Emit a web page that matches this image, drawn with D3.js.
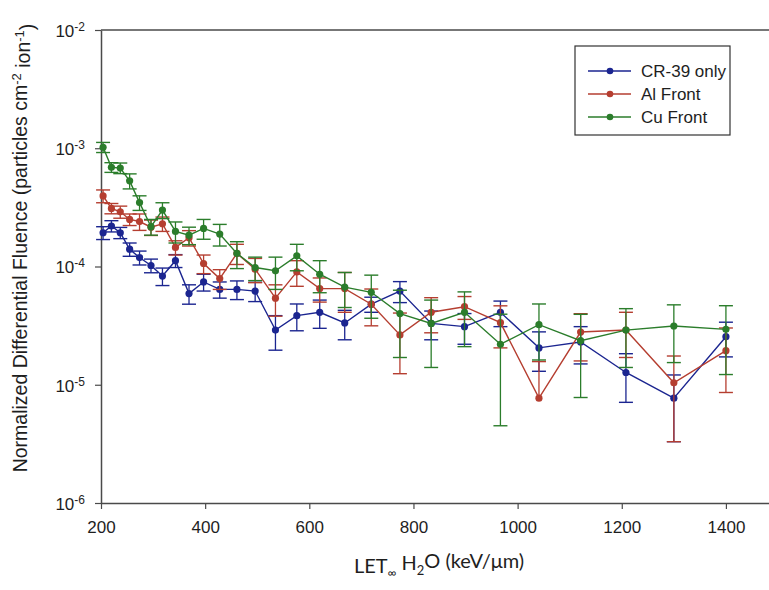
<!DOCTYPE html>
<html>
<head>
<meta charset="utf-8">
<script src="https://cdn.jsdelivr.net/npm/d3@7/dist/d3.min.js"></script>
<style>
  html, body { margin: 0; padding: 0; background: #fff; }
  svg { display: block; }
</style>
</head>
<body>
<svg id="chart" width="769" height="590"></svg>
<script>
// LET bin centres (keV/µm)
const letBins = [204, 220, 237, 255, 274, 296, 318, 343, 369, 397, 428, 461, 496, 535,
                 576, 620, 668, 719, 774, 834, 898, 967, 1041, 1121, 1208, 1300, 1400];

// Normalized differential fluence (particles cm^-2 ion^-1) and 1-sigma errors
const cr39Values = [1.93e-4, 2.2e-4, 1.93e-4, 1.40e-4, 1.19e-4, 1.02e-4, 8.3e-5, 1.12e-4, 5.9e-5, 7.4e-5,
                    6.4e-5, 6.4e-5, 6.2e-5, 2.9e-5, 3.84e-5, 4.1e-5, 3.33e-5, 4.8e-5, 6.2e-5, 3.3e-5,
                    3.1e-5, 4.1e-5, 2.05e-5, 2.3e-5, 1.27e-5, 7.7e-6, 2.55e-5];
const cr39Errors = [2.4e-5, 2.4e-5, 2.1e-5, 1.8e-5, 1.6e-5, 1.35e-5, 1.4e-5, 1.4e-5, 1.1e-5, 1.2e-5,
                    1.0e-5, 1.15e-5, 1.15e-5, 0.94e-5, 0.98e-5, 1.1e-5, 0.93e-5, 0.7e-5, 1.25e-5, 0.9e-5,
                    0.9e-5, 1.0e-5, 0.75e-5, 0.8e-5, 0.56e-5, 0.44e-5, 0.83e-5];

const alValues = [3.95e-4, 3.1e-4, 2.9e-4, 2.5e-4, 2.4e-4, 2.15e-4, 2.3e-4, 1.45e-4, 1.75e-4, 1.06e-4,
                  7.9e-5, 1.29e-4, 9.5e-5, 5.4e-5, 9.0e-5, 6.5e-5, 6.5e-5, 4.8e-5, 2.64e-5, 4.1e-5,
                  4.57e-5, 3.35e-5, 7.7e-6, 2.79e-5, 2.9e-5, 1.04e-5, 1.94e-5];
const alErrors = [4.9e-5, 3.1e-5, 3.4e-5, 2.8e-5, 3.8e-5, 3.2e-5, 3.2e-5, 2.0e-5, 2.6e-5, 1.9e-5,
                  1.5e-5, 2.5e-5, 2.2e-5, 1.6e-5, 2.2e-5, 1.5e-5, 2.4e-5, 1.65e-5, 1.4e-5, 1.35e-5,
                  1.0e-5, 1.3e-5, 0.8e-5, 1.2e-5, 1.2e-5, 0.71e-5, 1.08e-5];

const cuValues = [1.02e-3, 6.9e-4, 6.8e-4, 5.3e-4, 3.47e-4, 2.17e-4, 3.0e-4, 1.98e-4, 1.84e-4, 2.1e-4,
                  1.88e-4, 1.29e-4, 9.8e-5, 9.2e-5, 1.23e-4, 8.6e-5, 6.7e-5, 6.05e-5, 4.0e-5, 3.3e-5,
                  4.1e-5, 2.2e-5, 3.22e-5, 2.36e-5, 2.9e-5, 3.14e-5, 2.94e-5];
const cuErrors = [1.0e-4, 6.5e-5, 7.0e-5, 7.7e-5, 4.9e-5, 3.3e-5, 4.6e-5, 4.0e-5, 3.1e-5, 4.0e-5,
                  3.9e-5, 3.3e-5, 2.2e-5, 2.8e-5, 3.1e-5, 2.6e-5, 2.2e-5, 2.4e-5, 2.3e-5, 1.9e-5,
                  2.0e-5, 1.75e-5, 1.6e-5, 1.58e-5, 1.5e-5, 1.6e-5, 1.72e-5];

const seriesNames = ["CR-39 only", "Al Front", "Cu Front"];
const seriesColors = ["#1b2590", "#b53e30", "#2b7d2b"];

const xTicks = [200, 400, 600, 800, 1000, 1200, 1400];
const yTicks = [1e-6, 1e-5, 1e-4, 1e-3, 1e-2];

const series = [
  { name: seriesNames[0], color: seriesColors[0], values: cr39Values, errors: cr39Errors },
  { name: seriesNames[1], color: seriesColors[1], values: alValues, errors: alErrors },
  { name: seriesNames[2], color: seriesColors[2], values: cuValues, errors: cuErrors }
];

const svg = d3.select("#chart");
const plot = { left: 101, top: 30, bottom: 503, right: 778 };

const x = d3.scaleLinear().domain([200, 1500]).range([plot.left, plot.right]);
const y = d3.scaleLog().domain([1e-6, 1e-2]).range([plot.bottom, plot.top]);

const axisColor = "#4a4a4a";
const textColor = "#1e1e1e";
const tickFont = "'Liberation Sans', Arial, sans-serif";

// top frame line
svg.append("line")
  .attr("x1", plot.left).attr("x2", 769)
  .attr("y1", plot.top).attr("y2", plot.top)
  .attr("stroke", axisColor).attr("stroke-width", 1.5);

// x axis
const gx = svg.append("g")
  .attr("transform", `translate(0,${plot.bottom})`)
  .call(d3.axisBottom(x).tickValues(xTicks).tickFormat(d3.format("d"))
    .tickSize(6).tickSizeOuter(0).tickPadding(12));
gx.select(".domain").attr("stroke", axisColor).attr("stroke-width", 1.5);
gx.selectAll(".tick line").attr("stroke", axisColor).attr("stroke-width", 1.2);
gx.selectAll(".tick text")
  .attr("fill", textColor).style("font-family", tickFont).style("font-size", "17px");

// y axis with power-of-ten labels
const gy = svg.append("g")
  .attr("transform", `translate(${plot.left},0)`)
  .call(d3.axisLeft(y).tickValues(yTicks).tickSize(6).tickSizeOuter(0).tickFormat(() => ""));
gy.select(".domain").attr("stroke", axisColor).attr("stroke-width", 1.5);
gy.selectAll(".tick line").attr("stroke", axisColor).attr("stroke-width", 1.2);
gy.selectAll(".tick").each(function (d) {
  const t = d3.select(this).select("text")
    .attr("x", -16).attr("dy", "0.38em")
    .attr("fill", textColor).style("font-family", tickFont).style("font-size", "17px");
  t.text(null);
  t.append("tspan").text("10");
  t.append("tspan").attr("dy", "-0.5em").style("font-size", "12px")
    .text(String(Math.round(Math.log10(d))));
});

// data: line, error bars, symbols for each series
const line = d3.line().x((d) => x(d.let)).y((d) => y(d.v));
const capHalf = 7;

series.forEach((s) => {
  const pts = letBins.map((l, i) => ({ let: l, v: s.values[i], e: s.errors[i] }));
  const g = svg.append("g");

  g.append("path")
    .datum(pts)
    .attr("d", line)
    .attr("fill", "none")
    .attr("stroke", s.color)
    .attr("stroke-width", 1.4);

  const eb = g.selectAll(".eb").data(pts).join("g").attr("class", "eb");
  eb.each(function (d) {
    const gg = d3.select(this);
    const cx = x(d.let);
    const yHi = y(d.v + d.e);
    const lo = d.v - d.e;
    const yLo = lo > 0 ? y(Math.max(lo, 1e-6)) : y(d.v);
    gg.append("line").attr("x1", cx).attr("x2", cx).attr("y1", yHi).attr("y2", yLo)
      .attr("stroke", s.color).attr("stroke-width", 1.3);
    gg.append("line").attr("x1", cx - capHalf).attr("x2", cx + capHalf).attr("y1", yHi).attr("y2", yHi)
      .attr("stroke", s.color).attr("stroke-width", 1.4);
    if (lo > 0) {
      gg.append("line").attr("x1", cx - capHalf).attr("x2", cx + capHalf).attr("y1", yLo).attr("y2", yLo)
        .attr("stroke", s.color).attr("stroke-width", 1.4);
    }
  });

  g.selectAll("circle").data(pts).join("circle")
    .attr("cx", (d) => x(d.let))
    .attr("cy", (d) => y(d.v))
    .attr("r", 3.6)
    .attr("fill", s.color);
});

// legend
const legend = svg.append("g");
legend.append("rect")
  .attr("x", 575).attr("y", 46).attr("width", 155).attr("height", 89)
  .attr("fill", "#fff").attr("stroke", "#333").attr("stroke-width", 1.2);
series.forEach((s, i) => {
  const ly = 71 + i * 23;
  legend.append("line").attr("x1", 588).attr("x2", 631).attr("y1", ly).attr("y2", ly)
    .attr("stroke", s.color).attr("stroke-width", 1.4);
  legend.append("circle").attr("cx", 610).attr("cy", ly).attr("r", 3.3).attr("fill", s.color);
  legend.append("text").attr("x", 641).attr("y", ly).attr("dy", "0.36em")
    .style("font-family", tickFont).style("font-size", "17px").attr("fill", textColor)
    .text(s.name);
});

// axis titles
const yTitle = svg.append("text")
  .attr("transform", "translate(27,248) rotate(-90)")
  .attr("text-anchor", "middle")
  .style("font-family", tickFont).style("font-size", "19.5px").attr("fill", textColor);
yTitle.append("tspan").text("Normalized Differential Fluence (particles cm");
yTitle.append("tspan").attr("dy", "-0.5em").style("font-size", "13px").text("-2");
yTitle.append("tspan").attr("dy", "0.5em").text(" ion");
yTitle.append("tspan").attr("dy", "-0.5em").style("font-size", "13px").text("-1");
yTitle.append("tspan").attr("dy", "0.5em").text(")");

const xTitle = svg.append("text")
  .attr("x", 439).attr("y", 573)
  .attr("text-anchor", "middle")
  .style("font-family", "Lato, 'Open Sans', sans-serif").style("font-size", "20px").attr("fill", textColor);
xTitle.append("tspan").text("LET");
xTitle.append("tspan").attr("dy", "0.35em").style("font-size", "12px").text("\u221E");
xTitle.append("tspan").attr("dy", "-0.35em").text(" H");
xTitle.append("tspan").attr("dy", "0.35em").style("font-size", "13px").text("2");
xTitle.append("tspan").attr("dy", "-0.35em").text("O (keV/\u03BCm)");
</script>
</body>
</html>
